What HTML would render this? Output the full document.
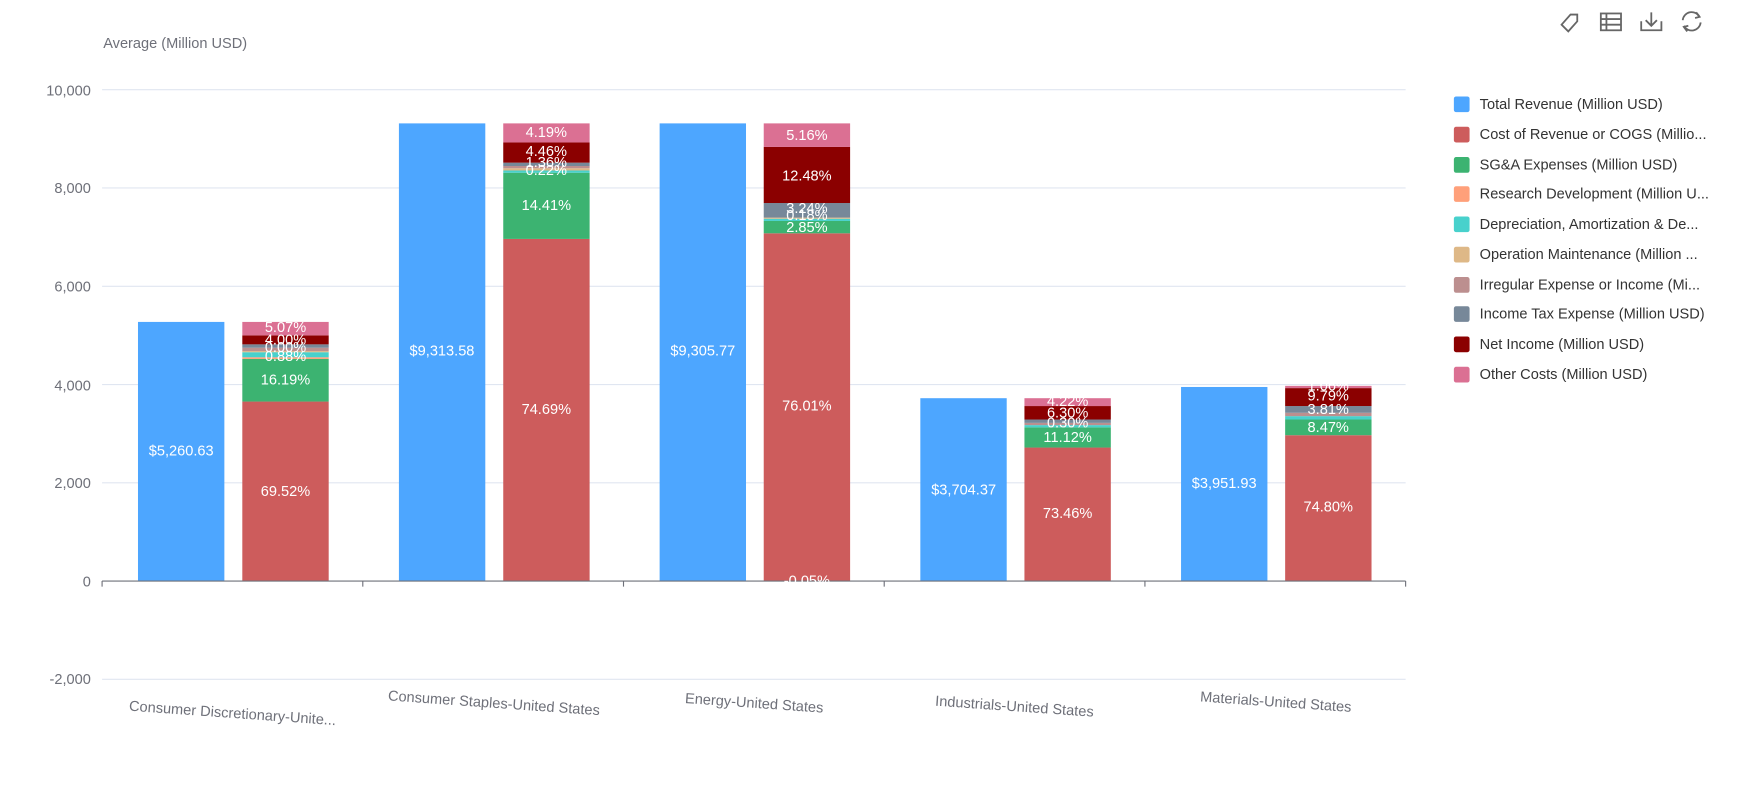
<!DOCTYPE html>
<html><head><meta charset="utf-8"><style>
html,body{margin:0;padding:0;background:#fff;width:1759px;height:802px;overflow:hidden}
svg{display:block}
text{font-family:"Liberation Sans",sans-serif}
</style></head><body>
<svg width="1759" height="802" viewBox="0 0 1568 715" preserveAspectRatio="none" xmlns="http://www.w3.org/2000/svg">
<rect width="1568" height="715" fill="#fff"/>
<!-- grid -->
<g stroke="#e0e6f1" stroke-width="1">
<line x1="91" y1="80" x2="1253" y2="80"/>
<line x1="91" y1="167.6" x2="1253" y2="167.6"/>
<line x1="91" y1="255.2" x2="1253" y2="255.2"/>
<line x1="91" y1="342.8" x2="1253" y2="342.8"/>
<line x1="91" y1="430.4" x2="1253" y2="430.4"/>
<line x1="91" y1="605.6" x2="1253" y2="605.6"/>
</g>
<g font-size="13" fill="#6e7079" text-anchor="end">
<text x="81" y="85">10,000</text>
<text x="81" y="172">8,000</text>
<text x="81" y="260">6,000</text>
<text x="81" y="348">4,000</text>
<text x="81" y="435">2,000</text>
<text x="81" y="523">0</text>
<text x="81" y="610">-2,000</text>
</g>
<text x="92" y="43" font-size="13" fill="#6e7079">Average (Million USD)</text>
<!-- bars -->
<g>
<rect x="123" y="287" width="77" height="231" fill="#4da6ff"/>
<rect x="355.6" y="110" width="77" height="408" fill="#4da6ff"/>
<rect x="588" y="110" width="77" height="408" fill="#4da6ff"/>
<rect x="820.4" y="355" width="77" height="163" fill="#4da6ff"/>
<rect x="1052.8" y="345" width="77" height="173" fill="#4da6ff"/>
</g>
<!-- cat0 stack -->
<g>
<rect x="216" y="358" width="77" height="160" fill="#cd5c5c"/>
<rect x="216" y="320" width="77" height="38" fill="#3cb371"/>
<rect x="216" y="318.5" width="77" height="1.5" fill="#ffa07a"/>
<rect x="216" y="314" width="77" height="4.5" fill="#48d1cc"/>
<rect x="216" y="313" width="77" height="1" fill="#deb887"/>
<rect x="216" y="310" width="77" height="3" fill="#bc8f8f"/>
<rect x="216" y="307" width="77" height="3" fill="#778899"/>
<rect x="216" y="299" width="77" height="8" fill="#8b0000"/>
<rect x="216" y="287" width="77" height="12" fill="#db7093"/>
</g>
<g>
<rect x="448.6" y="213" width="77" height="305" fill="#cd5c5c"/>
<rect x="448.6" y="154" width="77" height="59" fill="#3cb371"/>
<rect x="448.6" y="152" width="77" height="2" fill="#48d1cc"/>
<rect x="448.6" y="150" width="77" height="2" fill="#deb887"/>
<rect x="448.6" y="148" width="77" height="2" fill="#bc8f8f"/>
<rect x="448.6" y="145" width="77" height="3" fill="#778899"/>
<rect x="448.6" y="127" width="77" height="18" fill="#8b0000"/>
<rect x="448.6" y="110" width="77" height="17" fill="#db7093"/>
</g>
<g>
<rect x="680.8" y="208" width="77" height="310" fill="#cd5c5c"/>
<rect x="680.8" y="197" width="77" height="11" fill="#3cb371"/>
<rect x="680.8" y="195" width="77" height="2" fill="#48d1cc"/>
<rect x="680.8" y="194" width="77" height="1" fill="#deb887"/>
<rect x="680.8" y="181" width="77" height="13" fill="#778899"/>
<rect x="680.8" y="131" width="77" height="50" fill="#8b0000"/>
<rect x="680.8" y="110" width="77" height="21" fill="#db7093"/>
</g>
<g>
<rect x="913.2" y="399" width="77" height="119" fill="#cd5c5c"/>
<rect x="913.2" y="381" width="77" height="18" fill="#3cb371"/>
<rect x="913.2" y="379" width="77" height="2" fill="#48d1cc"/>
<rect x="913.2" y="377" width="77" height="2" fill="#bc8f8f"/>
<rect x="913.2" y="374" width="77" height="3" fill="#778899"/>
<rect x="913.2" y="362" width="77" height="12" fill="#8b0000"/>
<rect x="913.2" y="355" width="77" height="7" fill="#db7093"/>
</g>
<g>
<rect x="1145.6" y="388" width="77" height="130" fill="#cd5c5c"/>
<rect x="1145.6" y="374" width="77" height="14" fill="#3cb371"/>
<rect x="1145.6" y="371" width="77" height="3" fill="#48d1cc"/>
<rect x="1145.6" y="368" width="77" height="3" fill="#bc8f8f"/>
<rect x="1145.6" y="362" width="77" height="6" fill="#778899"/>
<rect x="1145.6" y="346" width="77" height="16" fill="#8b0000"/>
<rect x="1145.6" y="344" width="77" height="2" fill="#db7093"/>
</g>
<!-- axis -->
<line x1="91" y1="518" x2="1253" y2="518" stroke="#6e7079"/>
<g stroke="#6e7079">
<line x1="91" y1="518" x2="91" y2="523"/><line x1="323.4" y1="518" x2="323.4" y2="523"/>
<line x1="555.8" y1="518" x2="555.8" y2="523"/><line x1="788.2" y1="518" x2="788.2" y2="523"/>
<line x1="1020.6" y1="518" x2="1020.6" y2="523"/><line x1="1253" y1="518" x2="1253" y2="523"/>
</g>
<!-- labels -->
<g font-size="13" fill="#fff" text-anchor="middle">
<text x="161.5" y="406">$5,260.63</text>
<text x="394" y="317">$9,313.58</text>
<text x="626.5" y="317">$9,305.77</text>
<text x="859" y="441">$3,704.37</text>
<text x="1091.3" y="435">$3,951.93</text>
<text x="254.5" y="442">69.52%</text>
<text x="254.5" y="343">16.19%</text>
<text x="254.5" y="322">0.88%</text>
<text x="254.5" y="314">0.00%</text>
<text x="254.5" y="307">4.00%</text>
<text x="254.5" y="296">5.07%</text>
<text x="487" y="369">74.69%</text>
<text x="487" y="187">14.41%</text>
<text x="487" y="156">0.22%</text>
<text x="487" y="149">1.36%</text>
<text x="487" y="139">4.46%</text>
<text x="487" y="122">4.19%</text>
<text x="719.3" y="366">76.01%</text>
<text x="719.3" y="522">-0.05%</text>
<text x="719.3" y="207">2.85%</text>
<text x="719.3" y="196">0.18%</text>
<text x="719.3" y="190">3.24%</text>
<text x="719.3" y="161">12.48%</text>
<text x="719.3" y="125">5.16%</text>
<text x="951.7" y="462">73.46%</text>
<text x="951.7" y="394">11.12%</text>
<text x="951.7" y="381">0.30%</text>
<text x="951.7" y="372">6.30%</text>
<text x="951.7" y="362">4.22%</text>
<text x="1184" y="456">74.80%</text>
<text x="1184" y="385">8.47%</text>
<text x="1184" y="369">3.81%</text>
<text x="1184" y="357">9.79%</text>
<text x="1184" y="348">1.06%</text>
</g>
<!-- x labels -->
<g font-size="13" fill="#6e7079" text-anchor="middle">
<text transform="translate(207,640) rotate(4)">Consumer Discretionary-Unite...</text>
<text transform="translate(440,631) rotate(4)">Consumer Staples-United States</text>
<text transform="translate(672,631) rotate(4)">Energy-United States</text>
<text transform="translate(904,634) rotate(4)">Industrials-United States</text>
<text transform="translate(1137,630) rotate(4)">Materials-United States</text>
</g>
<!-- legend -->
<g font-size="13" fill="#333">
<rect x="1296" y="86" width="14" height="14" rx="2" fill="#4da6ff"/><text x="1319" y="97">Total Revenue (Million USD)</text>
<rect x="1296" y="113" width="14" height="14" rx="2" fill="#cd5c5c"/><text x="1319" y="124">Cost of Revenue or COGS (Millio...</text>
<rect x="1296" y="140" width="14" height="14" rx="2" fill="#3cb371"/><text x="1319" y="151">SG&amp;A Expenses (Million USD)</text>
<rect x="1296" y="166" width="14" height="14" rx="2" fill="#ffa07a"/><text x="1319" y="177">Research Development (Million U...</text>
<rect x="1296" y="193" width="14" height="14" rx="2" fill="#48d1cc"/><text x="1319" y="204">Depreciation, Amortization &amp; De...</text>
<rect x="1296" y="220" width="14" height="14" rx="2" fill="#deb887"/><text x="1319" y="231">Operation Maintenance (Million ...</text>
<rect x="1296" y="247" width="14" height="14" rx="2" fill="#bc8f8f"/><text x="1319" y="258">Irregular Expense or Income (Mi...</text>
<rect x="1296" y="273" width="14" height="14" rx="2" fill="#778899"/><text x="1319" y="284">Income Tax Expense (Million USD)</text>
<rect x="1296" y="300" width="14" height="14" rx="2" fill="#8b0000"/><text x="1319" y="311">Net Income (Million USD)</text>
<rect x="1296" y="327" width="14" height="14" rx="2" fill="#db7093"/><text x="1319" y="338">Other Costs (Million USD)</text>
</g>
<!-- toolbox -->
<g stroke="#666" stroke-width="1.6" fill="none">
<path d="M1392 22 l8 -9 h6 v6 l-8 9 z"/>
<rect x="1427" y="12" width="18" height="15"/><line x1="1427" y1="17" x2="1445" y2="17"/><line x1="1427" y1="22" x2="1445" y2="22"/><line x1="1432" y1="12" x2="1432" y2="27"/>
<path d="M1463 19 v8 h18 v-8 M1472 11 v12 M1467 18 l5 5 l5 -5"/>
<path d="M1500 18 a8 8 0 0 1 15 -3 M1516 20 a8 8 0 0 1 -15 3"/>
<path d="M1512 11 l3 4 l-4 1 M1504 28 l-3 -4 l4 -1"/>
</g>
</svg>
</body></html>
